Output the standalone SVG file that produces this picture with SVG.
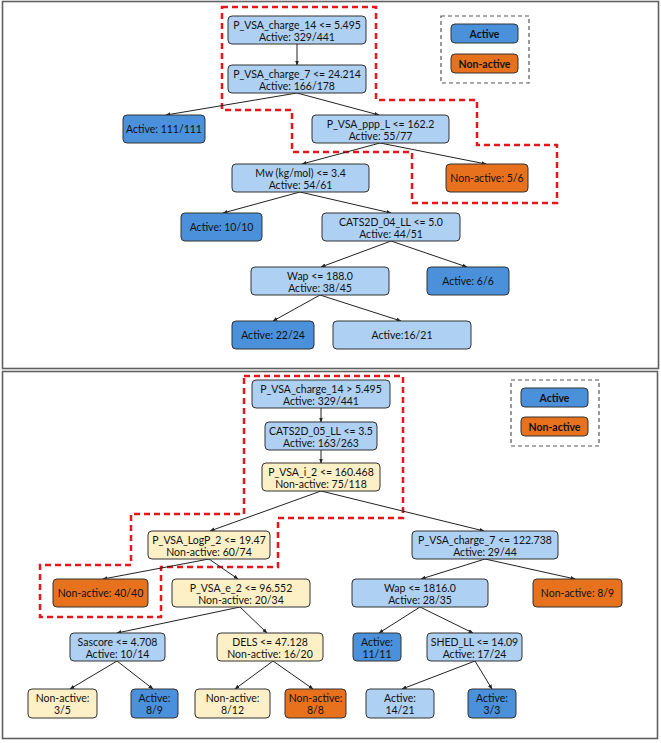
<svg xmlns="http://www.w3.org/2000/svg" width="661" height="743" viewBox="0 0 661 743">
<defs>
<marker id="ah" viewBox="0 0 10 10" refX="9" refY="5" markerWidth="5" markerHeight="5" orient="auto-start-reverse"><path d="M0,1 L10,5 L0,9 z" fill="#222"/></marker>
<style>
.panel{fill:#fff;stroke:#606060;stroke-width:1.6}
.n rect{stroke:#333;stroke-width:1}
.lb{fill:#aed0f3}.db{fill:#4a90da}.or{fill:#e8711e}.cr{fill:#fdefc6}
text{font-family:Lato,"Open Sans","Liberation Sans",sans-serif;font-size:10.5px;fill:#111;text-anchor:middle}
.bold{font-weight:bold}
.e line{stroke:#222;stroke-width:1;marker-end:url(#ah)}
.red{fill:none;stroke:#e8151b;stroke-width:2.5;stroke-dasharray:6,4}
.leg{fill:none;stroke:#555;stroke-width:1.2;stroke-dasharray:4,3}
</style>
</defs>
<rect class="panel" x="2.5" y="1.5" width="656" height="367"/>
<rect class="panel" x="2.5" y="371.5" width="655" height="367"/>

<!-- red highlighted paths -->
<path class="red" d="M222,7 H376 V100 H477 V145 H557 V203 H412 V152 H292 V110 H222 Z"/>
<path class="red" d="M244,376 H403 V518 H278 V567 H161 V617 H40 V565 H131 V514 H244 Z"/>

<!-- legends -->
<g id="legend-top">
<rect class="leg" x="441" y="16" width="88" height="67"/>
<rect x="451" y="24" width="67" height="19" rx="4" class="db" stroke="#333"/>
<text x="484.5" y="37.5" class="bold">Active</text>
<rect x="451" y="54" width="67" height="19" rx="4" class="or" stroke="#333"/>
<text x="484.5" y="67.5" class="bold">Non-active</text>
</g>
<g id="legend-bottom">
<rect class="leg" x="511" y="380" width="88" height="66"/>
<rect x="521" y="388" width="67" height="19" rx="4" class="db" stroke="#333"/>
<text x="554.5" y="401.5" class="bold">Active</text>
<rect x="521" y="417" width="67" height="19" rx="4" class="or" stroke="#333"/>
<text x="554.5" y="430.5" class="bold">Non-active</text>
</g>

<g id="connectors" class="e">
<line x1="297" y1="44" x2="297" y2="65"/>
<line x1="297" y1="93" x2="166" y2="115"/>
<line x1="297" y1="93" x2="379" y2="115"/>
<line x1="380" y1="143" x2="302" y2="164"/>
<line x1="380" y1="143" x2="486" y2="164"/>
<line x1="300" y1="192" x2="223" y2="213"/>
<line x1="300" y1="192" x2="391" y2="213"/>
<line x1="391" y1="241" x2="321" y2="267"/>
<line x1="391" y1="241" x2="467" y2="267"/>
<line x1="320" y1="295" x2="273" y2="321"/>
<line x1="320" y1="295" x2="401" y2="321"/>

<line x1="321" y1="408" x2="321" y2="422"/>
<line x1="321" y1="450" x2="321" y2="463"/>
<line x1="321" y1="491" x2="210" y2="531"/>
<line x1="321" y1="491" x2="484" y2="531"/>
<line x1="209" y1="559" x2="103" y2="579"/>
<line x1="209" y1="559" x2="238" y2="579"/>
<line x1="485" y1="559" x2="421" y2="579"/>
<line x1="485" y1="559" x2="575" y2="579"/>
<line x1="240" y1="607" x2="117" y2="633"/>
<line x1="240" y1="607" x2="267" y2="633"/>
<line x1="420" y1="607" x2="379" y2="633"/>
<line x1="420" y1="607" x2="473" y2="633"/>
<line x1="117" y1="661" x2="70" y2="689"/>
<line x1="117" y1="661" x2="153" y2="689"/>
<line x1="273" y1="661" x2="235" y2="689"/>
<line x1="273" y1="661" x2="313" y2="689"/>
<line x1="475" y1="661" x2="402" y2="689"/>
<line x1="475" y1="661" x2="492" y2="689"/>
</g>

<!-- top tree -->
<g id="t1" class="n"><rect class="lb" x="228" y="16" width="138" height="28" rx="4"/><text x="297" y="28.5">P_VSA_charge_14 &lt;= 5.495</text><text x="297" y="40.5">Active: 329/441</text></g>
<g id="t2" class="n"><rect class="lb" x="228" y="65" width="138" height="28" rx="4"/><text x="297" y="77.5">P_VSA_charge_7 &lt;= 24.214</text><text x="297" y="89.5">Active: 166/178</text></g>
<g id="t3" class="n"><rect class="db" x="123" y="115" width="82" height="28" rx="4"/><text x="164" y="133">Active: 111/111</text></g>
<g id="t4" class="n"><rect class="lb" x="312" y="115" width="137" height="28" rx="4"/><text x="380.5" y="127.5">P_VSA_ppp_L &lt;= 162.2</text><text x="380.5" y="139.5">Active: 55/77</text></g>
<g id="t5" class="n"><rect class="lb" x="232" y="164" width="137" height="28" rx="4"/><text x="300.5" y="176.5">Mw (kg/mol) &lt;= 3.4</text><text x="300.5" y="188.5">Active: 54/61</text></g>
<g id="t6" class="n"><rect class="or" x="446" y="164" width="82" height="28" rx="4"/><text x="487" y="182">Non-active: 5/6</text></g>
<g id="t7" class="n"><rect class="db" x="181" y="213" width="81" height="28" rx="4"/><text x="221.5" y="231">Active: 10/10</text></g>
<g id="t8" class="n"><rect class="lb" x="322" y="213" width="138" height="28" rx="4"/><text x="391" y="225.5">CATS2D_04_LL &lt;= 5.0</text><text x="391" y="237.5">Active: 44/51</text></g>
<g id="t9" class="n"><rect class="lb" x="251" y="267" width="138" height="28" rx="4"/><text x="320" y="279.5">Wap &lt;= 188.0</text><text x="320" y="291.5">Active: 38/45</text></g>
<g id="t10" class="n"><rect class="db" x="427" y="267" width="82" height="28" rx="4"/><text x="468" y="285">Active: 6/6</text></g>
<g id="t11" class="n"><rect class="db" x="232" y="321" width="82" height="28" rx="4"/><text x="273" y="339">Active: 22/24</text></g>
<g id="t12" class="n"><rect class="lb" x="333" y="321" width="138" height="28" rx="4"/><text x="402" y="339">Active:16/21</text></g>

<!-- bottom tree -->
<g id="b1" class="n"><rect class="lb" x="252" y="380" width="138" height="28" rx="4"/><text x="321" y="392.5">P_VSA_charge_14 &gt; 5.495</text><text x="321" y="404.5">Active: 329/441</text></g>
<g id="b2" class="n"><rect class="lb" x="265" y="422" width="112" height="28" rx="4"/><text x="321" y="434.5">CATS2D_05_LL &lt;= 3.5</text><text x="321" y="446.5">Active: 163/263</text></g>
<g id="b3" class="n"><rect class="cr" x="262" y="463" width="118" height="28" rx="4"/><text x="321" y="475.5">P_VSA_i_2 &lt;= 160.468</text><text x="321" y="487.5">Non-active: 75/118</text></g>
<g id="b4" class="n"><rect class="cr" x="148" y="531" width="122" height="28" rx="4"/><text x="209" y="543.5">P_VSA_LogP_2 &lt;= 19.47</text><text x="209" y="555.5">Non-active: 60/74</text></g>
<g id="b5" class="n"><rect class="lb" x="412" y="531" width="146" height="28" rx="4"/><text x="485" y="543.5">P_VSA_charge_7 &lt;= 122.738</text><text x="485" y="555.5">Active: 29/44</text></g>
<g id="b6" class="n"><rect class="or" x="53" y="579" width="95" height="28" rx="4"/><text x="100.5" y="597">Non-active: 40/40</text></g>
<g id="b7" class="n"><rect class="cr" x="172" y="579" width="138" height="28" rx="4"/><text x="241" y="591.5">P_VSA_e_2 &lt;= 96.552</text><text x="241" y="603.5">Non-active: 20/34</text></g>
<g id="b8" class="n"><rect class="lb" x="352" y="579" width="136" height="28" rx="4"/><text x="420" y="591.5">Wap &lt;= 1816.0</text><text x="420" y="603.5">Active: 28/35</text></g>
<g id="b9" class="n"><rect class="or" x="533" y="579" width="89" height="28" rx="4"/><text x="577.5" y="597">Non-active: 8/9</text></g>
<g id="b10" class="n"><rect class="lb" x="70" y="633" width="95" height="28" rx="4"/><text x="117.5" y="645.5">Sascore &lt;= 4.708</text><text x="117.5" y="657.5">Active: 10/14</text></g>
<g id="b11" class="n"><rect class="cr" x="217" y="633" width="106" height="28" rx="4"/><text x="270" y="645.5">DELS &lt;= 47.128</text><text x="270" y="657.5">Non-active: 16/20</text></g>
<g id="b16" class="n"><rect class="db" x="353" y="633" width="48" height="28" rx="4"/><text x="377" y="645.5">Active:</text><text x="377" y="657.5">11/11</text></g>
<g id="b17" class="n"><rect class="lb" x="427" y="633" width="95" height="28" rx="4"/><text x="474.5" y="645.5">SHED_LL &lt;= 14.09</text><text x="474.5" y="657.5">Active: 17/24</text></g>
<g id="b12" class="n"><rect class="cr" x="28" y="689" width="69" height="29" rx="4"/><text x="62.5" y="701.5">Non-active:</text><text x="62.5" y="714">3/5</text></g>
<g id="b13" class="n"><rect class="db" x="131" y="689" width="47" height="29" rx="4"/><text x="154.5" y="701.5">Active:</text><text x="154.5" y="714">8/9</text></g>
<g id="b14" class="n"><rect class="cr" x="195" y="689" width="75" height="29" rx="4"/><text x="232.5" y="701.5">Non-active:</text><text x="232.5" y="714">8/12</text></g>
<g id="b15" class="n"><rect class="or" x="285" y="689" width="61" height="29" rx="4"/><text x="315.5" y="701.5">Non-active:</text><text x="315.5" y="714">8/8</text></g>
<g id="b18" class="n"><rect class="lb" x="366" y="689" width="68" height="29" rx="4"/><text x="400" y="701.5">Active:</text><text x="400" y="714">14/21</text></g>
<g id="b19" class="n"><rect class="db" x="468" y="689" width="48" height="29" rx="4"/><text x="492" y="701.5">Active:</text><text x="492" y="714">3/3</text></g>
</svg>
